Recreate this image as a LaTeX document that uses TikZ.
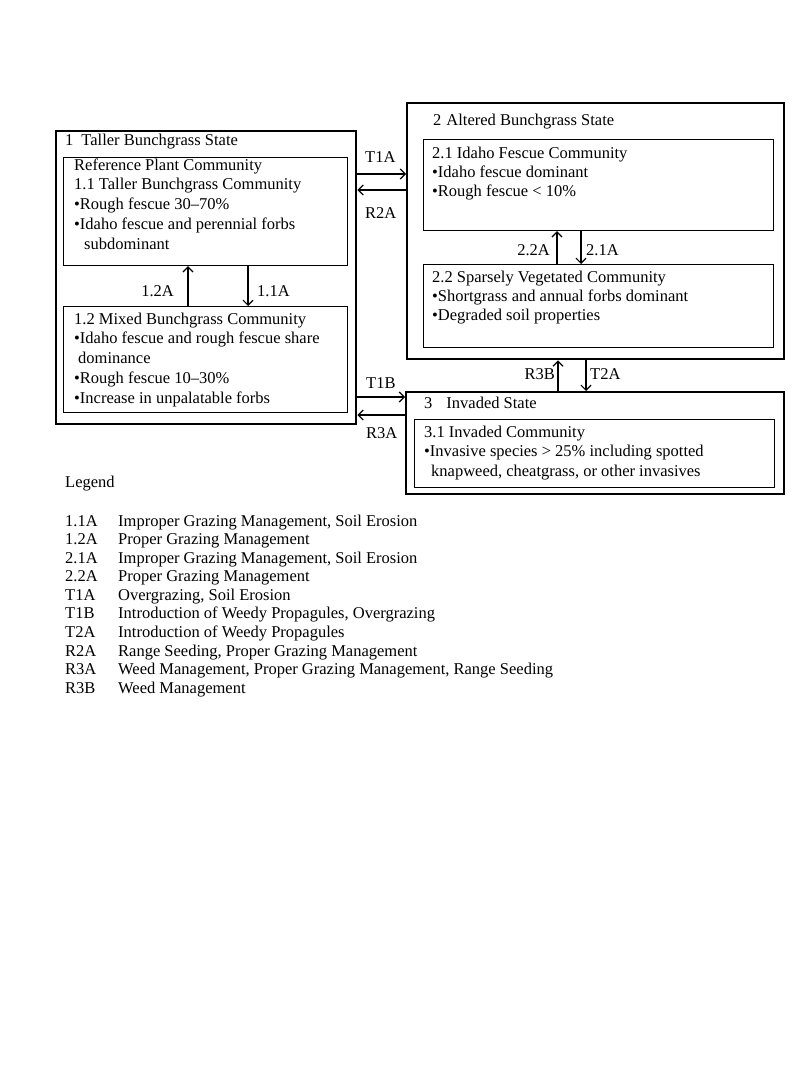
\documentclass[tikz,border=0pt]{standalone}
\usepackage{fontspec}
\setmainfont{Liberation Serif}
\usetikzlibrary{arrows.meta}
\begin{document}
\begin{tikzpicture}[x=1pt,y=-1pt,
  statebox/.style={draw, line width=2.4pt, anchor=north west, inner sep=0pt},
  commbox/.style={draw, line width=1.2pt, anchor=north west, inner sep=0pt},
  txt/.style={anchor=north west, inner sep=0pt, align=left, font=\fontsize{16.5}{19.7}\selectfont},
  lbl/.style={anchor=base west, inner sep=0pt, font=\fontsize{16.5}{19.7}\selectfont},
  leg/.style={anchor=north west, inner sep=0pt, align=left, font=\fontsize{16.5}{18.56}\selectfont},
  arr/.style={-{Straight Barb[length=5pt,width=10pt]}, line width=1.2pt},
]
\useasboundingbox[fill=white] (0,0) rectangle (800,1067);

% state boxes
\node[statebox, minimum width=300pt, minimum height=293pt] (s1) at (55,130) {};
\node[statebox, minimum width=377pt, minimum height=256pt] (s2) at (406,102) {};
\node[statebox, minimum width=378pt, minimum height=102pt] (s3) at (405,391) {};

% community boxes
\node[commbox, minimum width=284pt, minimum height=108pt] (c11) at (63,157) {};
\node[commbox, minimum width=284pt, minimum height=106pt] (c12) at (63,306) {};
\node[commbox, minimum width=350pt, minimum height=91pt] (c21) at (423,139) {};
\node[commbox, minimum width=350pt, minimum height=83pt] (c22) at (423,264) {};
\node[commbox, minimum width=360pt, minimum height=68pt] (c31) at (414,419) {};

% titles
\node[lbl] (t1) at (65,146) {1\hspace{8pt}Taller Bunchgrass State};
\node[lbl] (t2) at (433,126) {2\hspace{5pt}Altered Bunchgrass State};
\node[lbl] (t3) at (424,408) {3\hspace{14pt}Invaded State};

% community texts
\node[txt] (x11) at (74,156.3) {\strut Reference Plant Community\\
1.1 Taller Bunchgrass Community\\
•Rough fescue 30–70\%\\
•Idaho fescue and perennial forbs\\
\hspace*{10pt}subdominant};
\node[txt] (x12) at (74,310.3) {\strut 1.2 Mixed Bunchgrass Community\\
•Idaho fescue and rough fescue share\\
\hspace*{4pt}dominance\\
•Rough fescue 10–30\%\\
•Increase in unpalatable forbs};
\node[txt, font=\fontsize{16.5}{19.2}\selectfont] (x21) at (432,144.6) {\strut 2.1 Idaho Fescue Community\\
•Idaho fescue dominant\\
•Rough fescue < 10\%};
\node[txt, font=\fontsize{16.5}{19.2}\selectfont] (x22) at (432,268.6) {\strut 2.2 Sparsely Vegetated Community\\
•Shortgrass and annual forbs dominant\\
•Degraded soil properties};
\node[txt, font=\fontsize{16.5}{19.5}\selectfont] (x31) at (424,423.3) {\strut 3.1 Invaded Community\\
•Invasive species > 25\% including spotted\\
\hspace*{7pt}knapweed, cheatgrass, or other invasives};

% transitions between states
\draw[arr] (s1.east |- 0,174) -- (s2.west |- 0,174);
\draw[arr] (s2.west |- 0,190) -- (s1.east |- 0,190);
\draw[arr] (s1.east |- 0,397) -- (s3.west |- 0,397);
\draw[arr] (s3.west |- 0,415) -- (s1.east |- 0,415);
\draw[arr] (s3.north -| 558,0) -- (s2.south -| 558,0);
\draw[arr] (s2.south -| 586,0) -- (s3.north -| 586,0);
% within-state pathways
\draw[arr] (c12.north -| 188,0) -- (c11.south -| 188,0);
\draw[arr] (c11.south -| 248,0) -- (c12.north -| 248,0);
\draw[arr] (c22.north -| 557,0) -- (c21.south -| 557,0);
\draw[arr] (c21.south -| 581,0) -- (c22.north -| 581,0);

% arrow labels
\node[lbl] (lT1A) at (365,163) {T1A};
\node[lbl] (lR2A) at (365,219) {R2A};
\node[lbl] (lT1B) at (366,388) {T1B};
\node[lbl] (lR3A) at (366,438) {R3A};
\node[lbl, anchor=base east] (lR3B) at (555,379) {R3B};
\node[lbl] (lT2A) at (590,379) {T2A};
\node[lbl, anchor=base east] (l12A) at (174,296) {1.2A};
\node[lbl] (l11A) at (257,296) {1.1A};
\node[lbl, anchor=base east] (l22A) at (550,255) {2.2A};
\node[lbl] (l21A) at (586,255) {2.1A};

% legend
\node[lbl] (legend) at (65,487) {Legend};
\node[leg] (legcodes) at (65,513.0) {\strut 1.1A\\1.2A\\2.1A\\2.2A\\T1A\\T1B\\T2A\\R2A\\R3A\\R3B};
\node[leg] (legtext) at (118,513.0) {\strut Improper Grazing Management, Soil Erosion\\
Proper Grazing Management\\
Improper Grazing Management, Soil Erosion\\
Proper Grazing Management\\
Overgrazing, Soil Erosion\\
Introduction of Weedy Propagules, Overgrazing\\
Introduction of Weedy Propagules\\
Range Seeding, Proper Grazing Management\\
Weed Management, Proper Grazing Management, Range Seeding\\
Weed Management};
\end{tikzpicture}
\end{document}
